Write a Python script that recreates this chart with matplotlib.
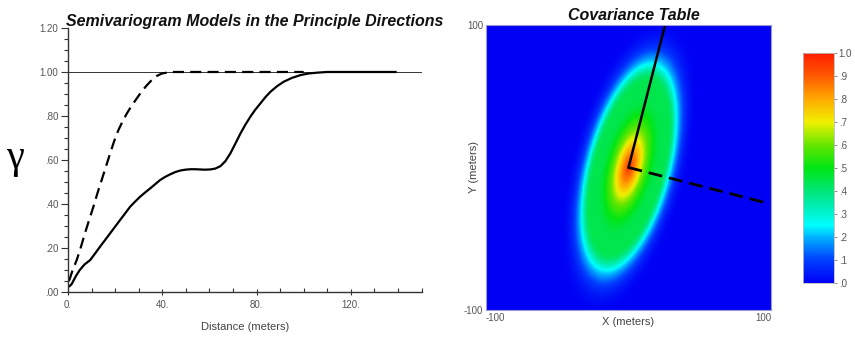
import matplotlib.pyplot as plt
import numpy as np
from matplotlib.colors import LinearSegmentedColormap
from matplotlib.ticker import MultipleLocator

# Semivariogram (distance in m, gamma)
major_dist = [0, 0.5, 1.5, 2.5, 3.5, 5, 7, 9.4, 11.5, 13.6, 15.8, 17.9, 20,
              22.1, 24.3, 26.4, 28.5, 30.6, 32.8, 34.9, 37, 39.1, 41.2, 43.4,
              45.5, 47.6, 49.8, 52, 54, 56, 58, 60.4, 62.5, 64.7, 66.8, 68.9,
              71, 73.2, 75.3, 77.4, 79.5, 81.7, 83.8, 86, 88.8, 91.6, 95, 98.7,
              102, 105.8, 110, 139]
major_gamma = [0.025, 0.025, 0.035, 0.055, 0.075, 0.10, 0.125, 0.145, 0.175,
               0.206, 0.237, 0.267, 0.297, 0.327, 0.358, 0.388, 0.411, 0.433,
               0.453, 0.471, 0.49, 0.509, 0.523, 0.535, 0.545, 0.552, 0.556,
               0.558, 0.558, 0.557, 0.556, 0.557, 0.561, 0.572, 0.595, 0.63,
               0.674, 0.721, 0.761, 0.797, 0.829, 0.858, 0.886, 0.911, 0.936,
               0.956, 0.973, 0.986, 0.993, 0.997, 1.0, 1.0]
minor_dist = [0.3, 0.6, 2, 3.7, 5.5, 7.2, 9, 10.8, 12.5, 14.3, 16.1, 17.9,
              19.6, 21.4, 23.2, 25, 27.1, 29.2, 31.3, 33.5, 35.6, 37.7, 39.8,
              42, 44, 100]
minor_gamma = [0.05, 0.055, 0.10, 0.145, 0.205, 0.267, 0.328, 0.388, 0.449,
               0.509, 0.57, 0.63, 0.686, 0.736, 0.776, 0.812, 0.848, 0.88,
               0.912, 0.94, 0.964, 0.982, 0.993, 0.997, 1.0, 1.0]
sill = 1.0

y_ticks = [0, 0.2, 0.4, 0.6, 0.8, 1.0, 1.2]
y_labels = [".00", ".20", ".40", ".60", ".80", "1.00", "1.20"]
x_ticks = [0, 40, 80, 120]
x_labels = ["0.", "40.", "80.", "120."]

# Covariance map settings
azimuth_deg = 14.4        # major direction, clockwise from north
anis_ratio = 2.6          # major range / minor range
axis_lengths = [103, 98]  # drawn length of major / minor direction lines
extent = [-100, 100]
cbar_ticks = np.round(np.arange(0, 1.01, 0.1), 1)
cbar_labels = [".0", ".1", ".2", ".3", ".4", ".5", ".6", ".7", ".8", ".9", "1.0"]

cmap = LinearSegmentedColormap.from_list(
    "covtable",
    [(0.0, "#0000f5"), (0.1, "#0040ff"), (0.2, "#00b4ff"), (0.25, "#00ffff"),
     (0.32, "#00f0c0"), (0.4, "#00e678"), (0.5, "#00e614"), (0.6, "#64e600"),
     (0.7, "#f0f000"), (0.8, "#ffaa00"), (0.9, "#ff5a00"), (1.0, "#ff1e00")],
)

tick_font = dict(family="Liberation Sans", size=7, color="#555555")
label_font = dict(family="Liberation Sans", size=8, color="#444444")
title_font = dict(family="Liberation Sans", size=11.5, weight="bold",
                  style="italic", color="#111111")

fig = plt.figure(figsize=(8.55, 3.37), dpi=100)

# ---- left: semivariogram models
ax = fig.add_axes([0.0795, 0.1335, 0.4135, 0.7835])
ax.axhline(sill, color="#333333", lw=0.7)
ax.plot(minor_dist, minor_gamma, color="black", lw=1.6, dashes=(5, 2.8))
ax.plot(major_dist, major_gamma, color="black", lw=1.6)
ax.set_xlim(0, 150)
ax.set_ylim(0, 1.2)
for side in ["top", "right"]:
    ax.spines[side].set_visible(False)
for side in ["left", "bottom"]:
    ax.spines[side].set_color("#333333")
    ax.spines[side].set_linewidth(1.0)
ax.set_yticks(y_ticks)
ax.set_yticklabels(y_labels, fontdict=tick_font)
ax.set_xticks(x_ticks)
ax.set_xticklabels(x_labels, fontdict=tick_font)
ax.xaxis.set_minor_locator(MultipleLocator(10))
ax.yaxis.set_minor_locator(MultipleLocator(0.05))
ax.tick_params(axis="y", which="major", direction="out", length=5, width=0.8,
               color="#333333", pad=2)
ax.tick_params(axis="y", which="minor", direction="out", length=3, width=0.8,
               color="#333333")
ax.tick_params(axis="x", which="major", direction="inout", length=5, width=0.8,
               color="#333333", pad=3)
ax.tick_params(axis="x", which="minor", direction="in", length=3, width=0.8,
               color="#333333")
ax.set_xlabel("Distance (meters)", fontdict=label_font, labelpad=9)
fig.text(0.018, 0.53, "γ", family="Liberation Serif", size=29, ha="center",
         va="center")
fig.text(0.298, 0.937, "Semivariogram Models in the Principle Directions",
         ha="center", va="center", **title_font)

# ---- right: covariance table
az = np.deg2rad(azimuth_deg)
grid = np.linspace(extent[0], extent[1], 201)
gx, gy = np.meshgrid(grid, grid)
d_major = gx * np.sin(az) + gy * np.cos(az)
d_minor = gx * np.cos(az) - gy * np.sin(az)
h = np.hypot(d_major, anis_ratio * d_minor)
cov = sill - np.interp(h, major_dist, major_gamma, right=sill)

axc = fig.add_axes([0.5684, 0.080, 0.3334, 0.846])
im = axc.imshow(cov, cmap=cmap, vmin=0, vmax=1, origin="lower",
                extent=[extent[0], extent[1], extent[0], extent[1]],
                interpolation="bilinear", aspect="auto")
axc.plot([0, axis_lengths[0] * np.sin(az)], [0, axis_lengths[0] * np.cos(az)],
         color="black", lw=1.8)
axc.plot([0, axis_lengths[1] * np.cos(az)], [0, -axis_lengths[1] * np.sin(az)],
         color="black", lw=2.0, dashes=(5, 2.5))
axc.set_xlim(extent)
axc.set_ylim(extent)
for sp in axc.spines.values():
    sp.set_color("#9a9ad8")
    sp.set_linewidth(0.8)
axc.set_xticks(extent)
axc.set_xticklabels(["-100", "100"], fontdict=tick_font)
axc.set_yticks(extent)
axc.set_yticklabels(["-100", "100"], fontdict=tick_font)
axc.get_xticklabels()[0].set_ha("left")
axc.get_xticklabels()[1].set_ha("right")
axc.tick_params(length=0, pad=2)
axc.set_xlabel("X (meters)", fontdict=label_font, labelpad=-4)
axc.set_ylabel("Y (meters)", fontdict=label_font)
axc.yaxis.set_label_coords(-0.025, 0.5)
fig.text(0.7415, 0.955, "Covariance Table", ha="center", va="center",
         **title_font)

cax = fig.add_axes([0.9392, 0.160, 0.0368, 0.683])
cb = fig.colorbar(im, cax=cax)
cb.set_ticks(cbar_ticks)
cb.set_ticklabels(cbar_labels)
for t in cb.ax.get_yticklabels():
    t.set(**tick_font)
cb.ax.tick_params(length=2, width=0.6, color="#777777", pad=1)
cb.outline.set_edgecolor("#bbbbbb")
cb.outline.set_linewidth(0.6)

fig.savefig("out.png", dpi=100)
